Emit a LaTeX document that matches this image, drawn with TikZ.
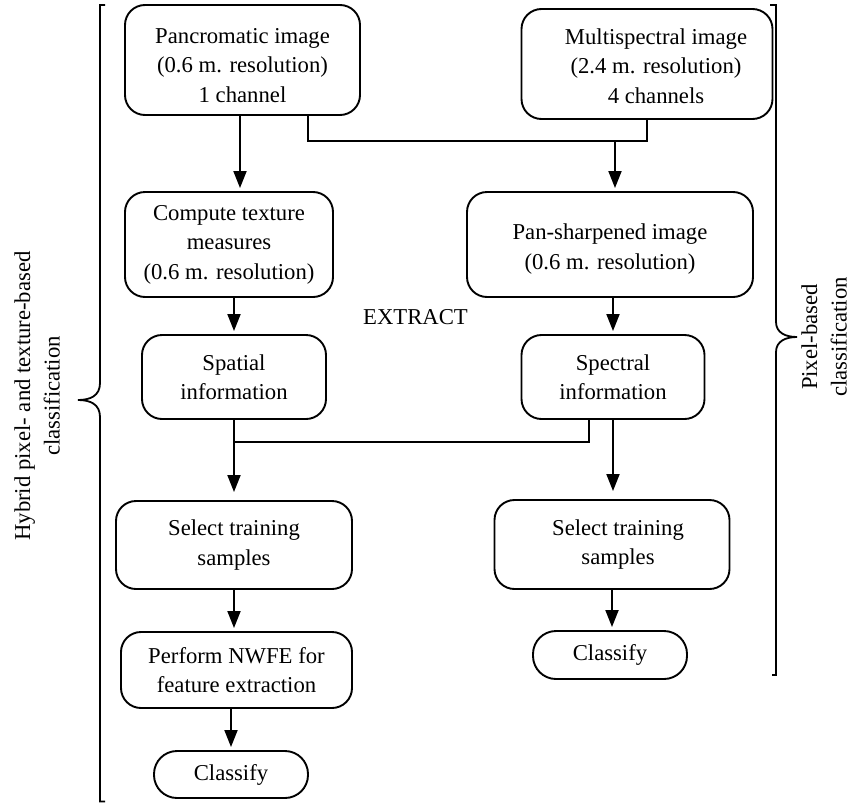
\documentclass[tikz,border=0pt]{standalone}
\usepackage{fontspec}
\setmainfont{Liberation Serif}
\usetikzlibrary{arrows.meta}
\newcommand{\lowtext}[2]{\raisebox{-#1}[\height][\depth]{\begin{tabular}{@{}c@{}}#2\end{tabular}}}
\begin{document}
\begin{tikzpicture}[x=1pt,y=-1pt,
  every node/.style={font=\fontsize{22.7}{29.5}\selectfont},
  box/.style={draw, line width=1.9pt, rounded corners=20pt, align=center, inner sep=0pt},
  pill/.style={box, rounded corners=23pt},
  conn/.style={line width=1.9pt},
  arr/.style={conn, -{Triangle[length=17pt,width=13pt]}, shorten >=3pt},
  brace/.style={line width=1.8pt},
]
\useasboundingbox (0,0) rectangle (853,803);

\node[box, minimum width=235pt, minimum height=110pt] (pan) at (242.5,60) {\lowtext{7pt}{Pancromatic image\\(0.6 m. resolution)\\1 channel}};
\node[box, minimum width=251pt, minimum height=110pt] (ms) at (647,64) {\lowtext{4pt}{\hspace*{18pt}Multispectral image\\\hspace*{18pt}(2.4 m. resolution)\\\hspace*{18pt}4 channels}};
\node[box, minimum width=208pt, minimum height=105pt] (comp) at (229,244.5) {Compute texture\\measures\\(0.6 m. resolution)};
\node[box, minimum width=286pt, minimum height=105pt] (pansh) at (610,244.5) {\lowtext{4pt}{Pan-sharpened image\\(0.6 m. resolution)}};
\node[box, minimum width=184pt, minimum height=84pt] (spat) at (234,377) {Spatial\\information};
\node[box, minimum width=183pt, minimum height=84pt] (spec) at (613,377) {Spectral\\information};
\node (extract) at (415.5,317) {EXTRACT};
\node[box, minimum width=236pt, minimum height=88pt] (selL) at (234,545) {Select training\\samples};
\node[box, minimum width=235pt, minimum height=89pt] (selR) at (612,544.5) {\hspace*{12pt}Select training\\\hspace*{12pt}samples};
\node[box, minimum width=231pt, minimum height=76pt] (nwfe) at (236.5,670) {Perform NWFE for\\feature extraction};
\node[pill, minimum width=154pt, minimum height=47pt] (clsL) at (231,774.5) {Classify};
\node[pill, minimum width=154pt, minimum height=48pt] (clsR) at (610,655) {Classify};

\coordinate (j1) at (615,141);
\coordinate (j2) at (234,442);

\draw[arr] ([xshift=-2.5pt]pan.south) -- ([xshift=-2.5pt]pan.south |- comp.north);
\draw[conn] ([xshift=65.5pt]pan.south) |- (j1) -| (ms.south);
\draw[arr] (j1) -- (j1 |- pansh.north);
\draw[arr] (spat.north |- comp.south) -- (spat.north);
\draw[arr] (spec.north |- pansh.south) -- (spec.north);
\draw[arr, shorten >=8pt] (spat.south) -- (selL.north);
\draw[arr, shorten >=8pt] (spec.south) -- (spec.south |- selR.north);
\draw[conn] ([xshift=-24pt]spec.south) |- (j2);
\draw[arr] (selL.south) -- (selL.south |- nwfe.north);
\draw[arr] (clsL.north |- nwfe.south) -- (clsL.north);
\draw[arr] (selR.south) -- (selR.south |- clsR.north);

\draw[brace] (105,5) -- (100,5) -- (100,383) .. controls (100,396) and (90,400) .. (78,400) .. controls (90,400) and (100,404) .. (100,417) -- (100,801.5) -- (105,801.5);
\draw[brace] (770,5) -- (776,5) -- (776,322) .. controls (776,333) and (786,337) .. (797,337) .. controls (786,337) and (776,341) .. (776,352) -- (776,675) -- (772,675);

\node[rotate=90, align=center] (lblL) at (37,396) {Hybrid pixel- and texture-based\\classification};
\node[rotate=90, align=center] (lblR) at (824,337) {Pixel-based\\classification};
\end{tikzpicture}
\end{document}
